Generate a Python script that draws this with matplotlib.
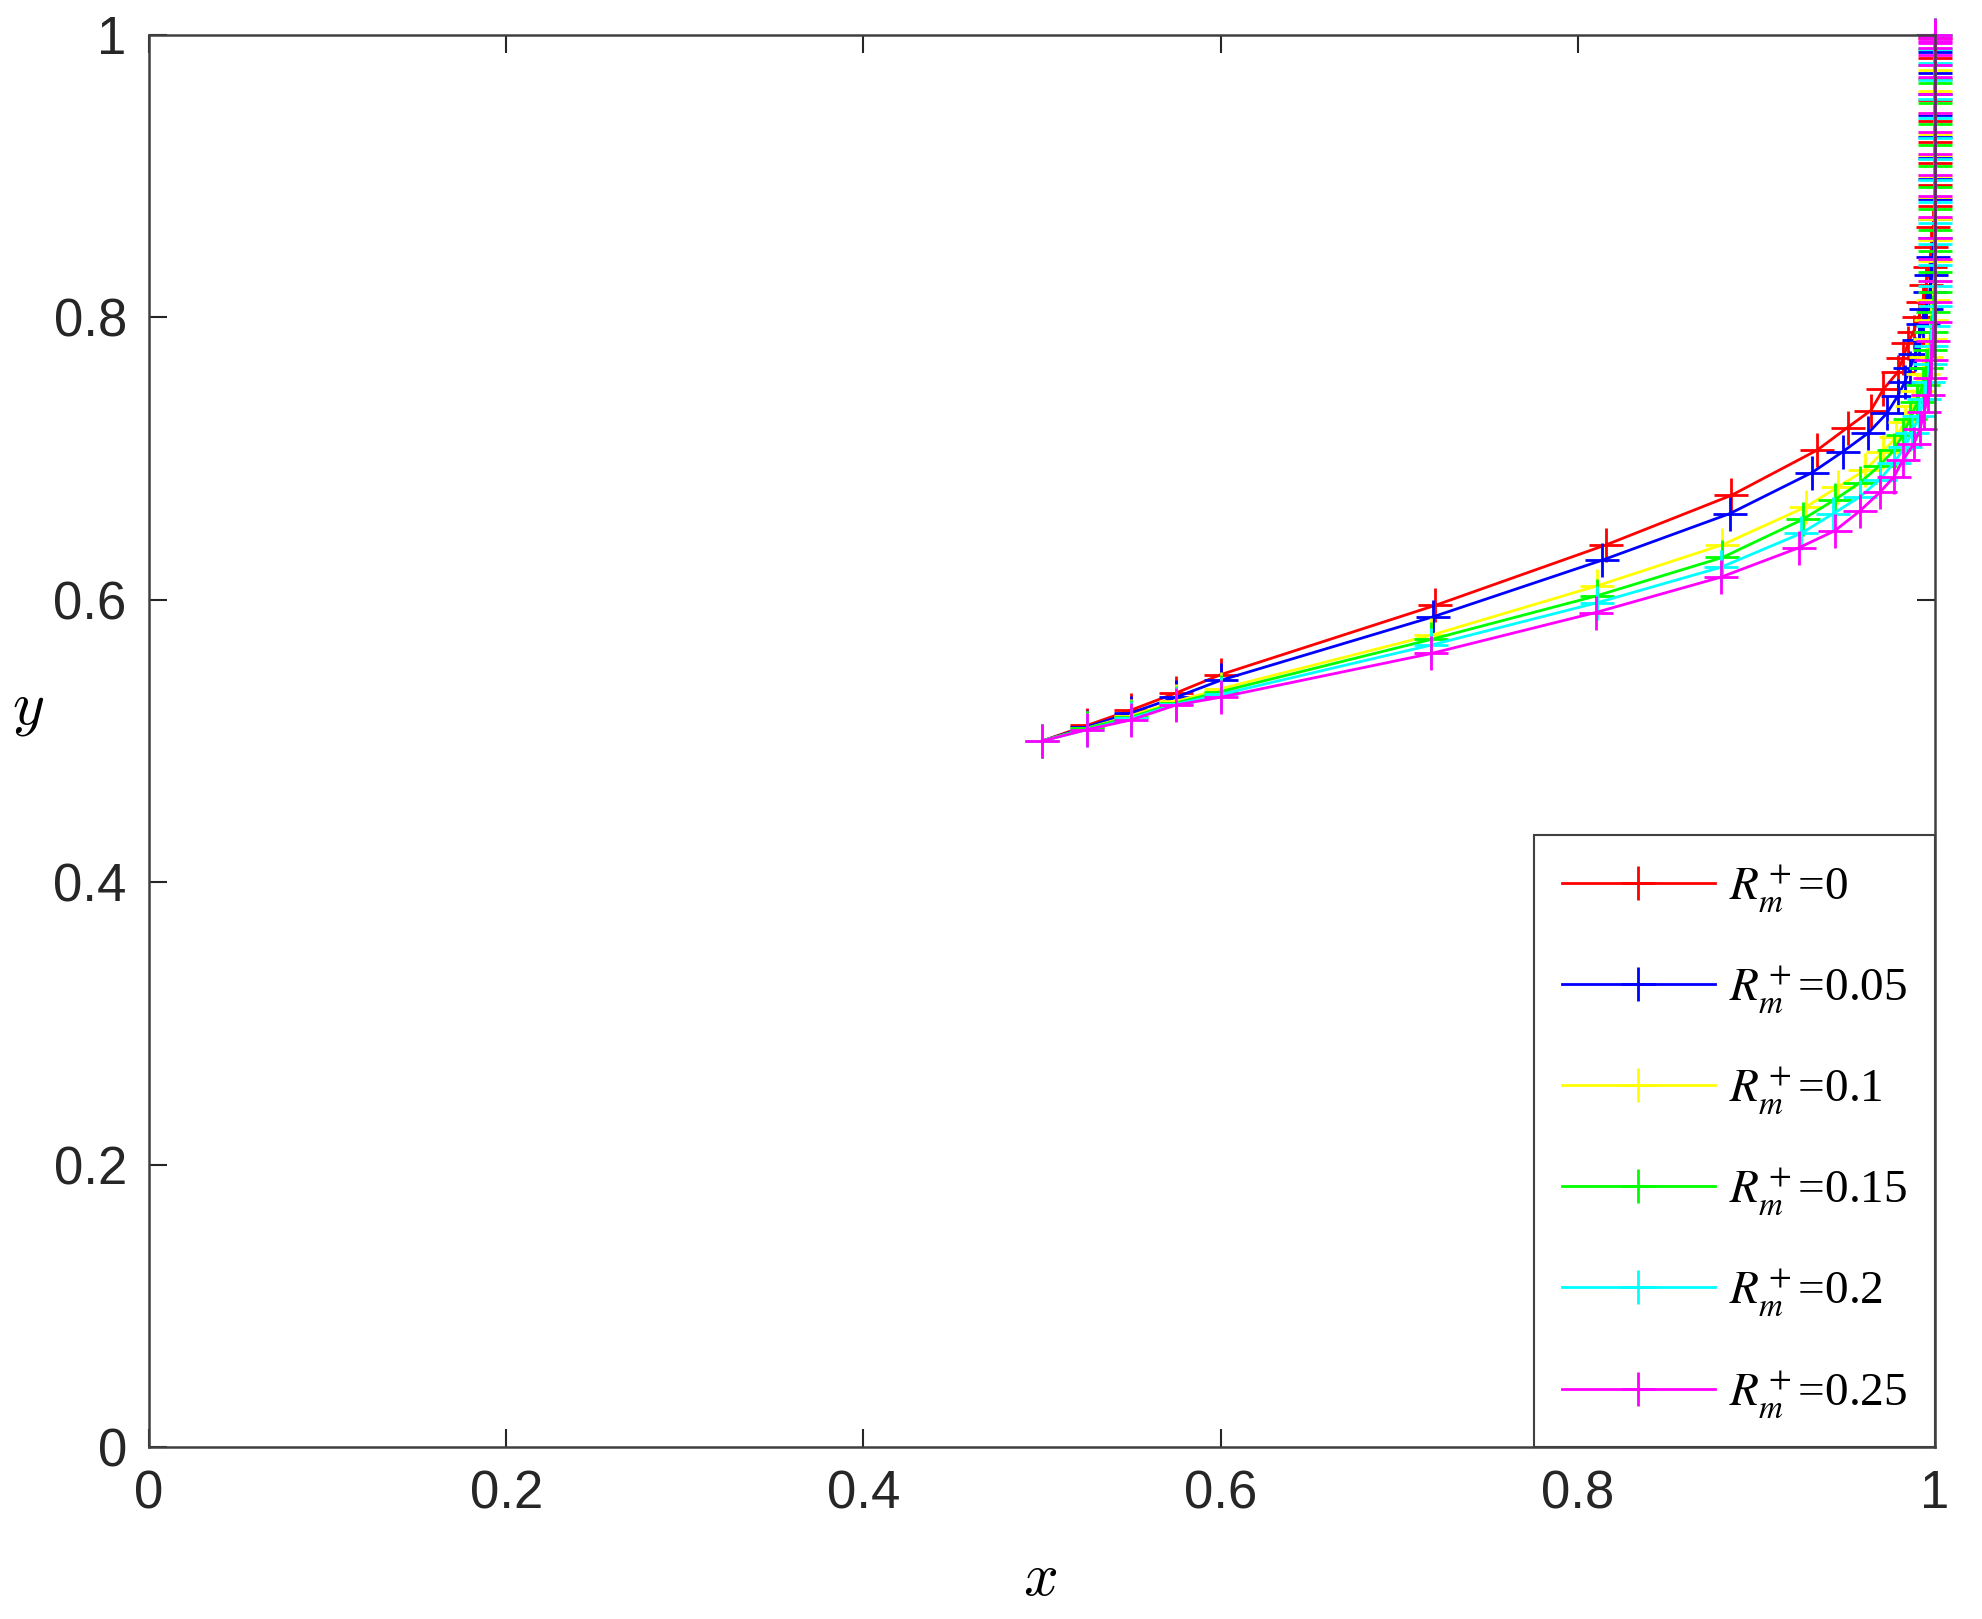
import matplotlib
matplotlib.use("Agg")
import matplotlib.pyplot as plt
from matplotlib.font_manager import FontProperties

# 曲線データ
labels = [r'$R_m^+$=0', r'$R_m^+$=0.05', r'$R_m^+$=0.1',
          r'$R_m^+$=0.15', r'$R_m^+$=0.2', r'$R_m^+$=0.25']
colors = ['#ff0000', '#0000ff', '#ffff00', '#00ff00', '#00ffff', '#ff00ff']

x_r0 = [0.500, 0.525, 0.550, 0.575, 0.600, 0.720, 0.816, 0.886, 0.934, 0.951,
        0.964, 0.971, 0.979, 0.982, 0.985, 0.988, 0.991, 0.993, 0.995, 0.997,
        0.998, 0.999, 1.0, 1.0, 1.0, 1.0, 1.0, 1.0, 1.0, 1.0, 1.0]
y_r0 = [0.500, 0.511, 0.522, 0.534, 0.547, 0.596, 0.639, 0.674, 0.706, 0.722,
        0.734, 0.749, 0.761, 0.771, 0.782, 0.790, 0.800, 0.811, 0.823, 0.836,
        0.850, 0.864, 0.879, 0.894, 0.909, 0.924, 0.939, 0.954, 0.969, 0.984,
        0.998]

x_r005 = [0.500, 0.525, 0.550, 0.575, 0.600, 0.719, 0.8135, 0.885, 0.931, 0.9485,
          0.9625, 0.973, 0.979, 0.983, 0.986, 0.989, 0.991, 0.993, 0.995, 0.997,
          0.998, 0.999, 1.0, 1.0, 1.0, 1.0, 1.0, 1.0, 1.0, 1.0, 1.0, 1.0, 1.0]
y_r005 = [0.500, 0.510, 0.520, 0.531, 0.543, 0.588, 0.628, 0.661, 0.690, 0.705,
          0.718, 0.732, 0.744, 0.754, 0.764, 0.774, 0.784, 0.795, 0.806, 0.818,
          0.830, 0.843, 0.856, 0.870, 0.884, 0.898, 0.913, 0.928, 0.943, 0.958,
          0.973, 0.988, 1.0]

x_r01 = [0.500, 0.525, 0.550, 0.575, 0.600, 0.718, 0.811, 0.881, 0.928, 0.9457,
         0.961, 0.971, 0.978, 0.983, 0.987, 0.990, 0.993, 0.995, 0.997, 0.998,
         0.999, 1.0, 1.0, 1.0, 1.0, 1.0, 1.0, 1.0, 1.0, 1.0, 1.0, 1.0, 1.0, 1.0]
y_r01 = [0.500, 0.509, 0.518, 0.528, 0.537, 0.575, 0.610, 0.639, 0.666, 0.680,
         0.692, 0.705, 0.715, 0.726, 0.737, 0.748, 0.760, 0.772, 0.785, 0.798,
         0.812, 0.826, 0.840, 0.855, 0.870, 0.885, 0.900, 0.915, 0.930, 0.945,
         0.960, 0.975, 0.990, 1.0]

x_r015 = [0.500, 0.525, 0.550, 0.575, 0.600, 0.718, 0.811, 0.881, 0.926, 0.944,
          0.958, 0.969, 0.977, 0.982, 0.986, 0.990, 0.993, 0.995, 0.997, 0.998,
          0.999, 1.0, 1.0, 1.0, 1.0, 1.0, 1.0, 1.0, 1.0, 1.0, 1.0, 1.0, 1.0, 1.0,
          1.0]
y_r015 = [0.500, 0.509, 0.517, 0.527, 0.535, 0.572, 0.603, 0.630, 0.657, 0.671,
          0.683, 0.695, 0.706, 0.717, 0.728, 0.740, 0.752, 0.764, 0.777, 0.790,
          0.804, 0.818, 0.832, 0.847, 0.862, 0.877, 0.892, 0.907, 0.922, 0.937,
          0.952, 0.966, 0.979, 0.990, 1.0]

x_r02 = [0.500, 0.525, 0.550, 0.575, 0.600, 0.718, 0.811, 0.880, 0.925, 0.943,
         0.958, 0.969, 0.977, 0.983, 0.987, 0.991, 0.994, 0.996, 0.997, 0.998,
         0.999, 1.0, 1.0, 1.0, 1.0, 1.0, 1.0, 1.0, 1.0, 1.0, 1.0, 1.0, 1.0, 1.0,
         1.0, 1.0]
y_r02 = [0.500, 0.508, 0.516, 0.526, 0.533, 0.568, 0.598, 0.623, 0.647, 0.661,
         0.673, 0.685, 0.697, 0.708, 0.718, 0.730, 0.742, 0.754, 0.767, 0.780,
         0.794, 0.808, 0.822, 0.837, 0.852, 0.867, 0.882, 0.897, 0.912, 0.927,
         0.941, 0.955, 0.968, 0.980, 0.990, 1.0]

x_r025 = [0.500, 0.525, 0.550, 0.575, 0.600, 0.718, 0.810, 0.880, 0.924, 0.944,
          0.958, 0.969, 0.977, 0.982, 0.988, 0.9916, 0.994, 0.996, 0.997, 0.998,
          0.999, 1.0, 1.0, 1.0, 1.0, 1.0, 1.0, 1.0, 1.0, 1.0, 1.0, 1.0, 1.0, 1.0,
          1.0, 1.0, 1.0, 1.0, 1.0, 1.0, 1.0]
y_r025 = [0.500, 0.508, 0.515, 0.5255, 0.531, 0.562, 0.591, 0.616, 0.637, 0.649,
          0.663, 0.676, 0.687, 0.699, 0.710, 0.721, 0.733, 0.745, 0.757, 0.770,
          0.783, 0.797, 0.811, 0.826, 0.841, 0.856, 0.871, 0.886, 0.901, 0.916,
          0.931, 0.945, 0.958, 0.970, 0.979, 0.986, 0.991, 0.994, 0.996, 0.998,
          1.0]

xs = [x_r0, x_r005, x_r01, x_r015, x_r02, x_r025]
ys = [y_r0, y_r005, y_r01, y_r015, y_r02, y_r025]

ticks = [0, 0.2, 0.4, 0.6, 0.8, 1]
tick_labels = ['0', '0.2', '0.4', '0.6', '0.8', '1']

# グラフの初期化
fig = plt.figure(figsize=(19.82, 16.19), dpi=100)
ax = fig.add_axes([0.0752, 0.1062, 0.9011, 0.8722])

for x, y, c, lab in zip(xs, ys, colors, labels):
    ax.plot(x, y, '-+', color=c, lw=2.0, ms=24, mew=2.0, label=lab, clip_on=False)

ax.set_xlim(0, 1)
ax.set_ylim(0, 1)
ax.set_xticks(ticks)
ax.set_xticklabels(tick_labels)
ax.set_yticks(ticks)
ax.set_yticklabels(tick_labels)
ax.tick_params(direction='in', length=13, width=1.5, top=True, right=True,
               labelsize=38, pad=16, colors='#262626')
for lbl in ax.get_xticklabels() + ax.get_yticklabels():
    lbl.set_family('Liberation Sans')
for s in ax.spines.values():
    s.set_color('#404040')
    s.set_linewidth(1.8)

ax.set_xlabel(r'$x$', fontsize=44, math_fontfamily='cm', va='center')
ax.set_ylabel(r'$y$', fontsize=44, math_fontfamily='cm', rotation=0,
              va='center', ha='center')
ax.xaxis.set_label_coords(0.499, -0.093)
ax.yaxis.set_label_coords(-0.068, 0.523)

# 凡例
prop = FontProperties(family='Liberation Serif', size=34, math_fontfamily='stix')
leg = ax.legend(loc='lower right', prop=prop, borderaxespad=0, fancybox=False,
                handlelength=3.25, handletextpad=0.3, labelspacing=1.05,
                borderpad=0.58, framealpha=1)
leg.get_frame().set_edgecolor('#404040')
leg.get_frame().set_linewidth(1.5)

fig.savefig('out.png', dpi=100)
